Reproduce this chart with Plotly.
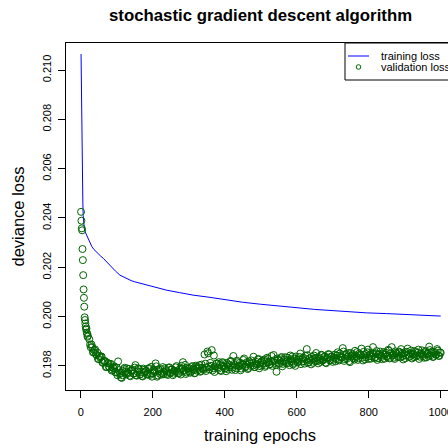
import plotly.graph_objects as go

# ---------------- data ----------------
train_epochs = [1, 2, 3, 4, 5, 6, 7, 8, 9, 10, 12, 15, 20, 25, 31, 37, 45, 55, 63, 73,
                85, 97, 109, 120, 130, 140, 150, 160, 170, 183, 210, 239, 275, 312, 359,
                400, 450, 500, 550, 609, 650, 701, 750, 794, 850, 887, 950, 1000]
train_loss = [0.21065, 0.20880, 0.20740, 0.20640, 0.20540, 0.20460, 0.20410, 0.20385,
              0.20368, 0.20358, 0.20345, 0.20335, 0.20322, 0.20302, 0.20284, 0.20272,
              0.20259, 0.20246, 0.20236, 0.20220, 0.20202, 0.20184, 0.20168, 0.20159,
              0.20152, 0.20146, 0.20141, 0.20137, 0.20133, 0.20128, 0.20117, 0.20107,
              0.20097, 0.20087, 0.20078, 0.20068, 0.20058, 0.20050, 0.20042, 0.20034,
              0.20029, 0.20024, 0.20019, 0.20015, 0.20012, 0.20010, 0.20006, 0.20002]

val_epochs_early = list(range(1, 21))
val_loss_early = [0.20425, 0.20389, 0.20358, 0.20350, 0.20274, 0.20229, 0.20168, 0.20110,
                  0.20076, 0.20040, 0.19997, 0.19986, 0.19972, 0.19960, 0.19948, 0.19952,
                  0.19935, 0.19930, 0.19918, 0.19922]

val_epochs_a = list(range(24, 1001, 4))
val_loss_a = [
    # 24 - 100
    0.19908, 0.19875, 0.19876, 0.19855, 0.19867, 0.19844, 0.19828, 0.19840, 0.19838, 0.19814,
    0.19819, 0.19819, 0.19796, 0.19811, 0.19794, 0.19808, 0.19784, 0.19790, 0.19774, 0.19793,
    # 104 - 300
    0.19818, 0.19766, 0.19753, 0.19762, 0.19787, 0.19775, 0.19790, 0.19770, 0.19760, 0.19780,
    0.19785, 0.19769, 0.19803, 0.19760, 0.19790, 0.19765, 0.19775, 0.19757, 0.19784, 0.19778,
    0.19767, 0.19788, 0.19763, 0.19796, 0.19770, 0.19782, 0.19810, 0.19756, 0.19786, 0.19768,
    0.19764, 0.19795, 0.19775, 0.19783, 0.19767, 0.19792, 0.19770, 0.19786, 0.19762, 0.19781,
    0.19794, 0.19776, 0.19769, 0.19788, 0.19800, 0.19815, 0.19783, 0.19767, 0.19792, 0.19778,
    # 304 - 500
    0.19772, 0.19795, 0.19786, 0.19770, 0.19801, 0.19780, 0.19794, 0.19776, 0.19805, 0.19788,
    0.19846, 0.19779, 0.19858, 0.19797, 0.19812, 0.19864, 0.19790, 0.19775, 0.19808, 0.19793,
    0.19815, 0.19782, 0.19800, 0.19811, 0.19789, 0.19778, 0.19806, 0.19795, 0.19820, 0.19784,
    0.19840, 0.19803, 0.19790, 0.19815, 0.19798, 0.19782, 0.19810, 0.19824, 0.19793, 0.19806,
    0.19787, 0.19818, 0.19800, 0.19812, 0.19837, 0.19795, 0.19808, 0.19826, 0.19790, 0.19813,
    # 504 - 700
    0.19803, 0.19821, 0.19796, 0.19815, 0.19828, 0.19806, 0.19819, 0.19800, 0.19844, 0.19812,
    0.19776, 0.19825, 0.19808, 0.19831, 0.19798, 0.19818, 0.19835, 0.19810, 0.19822, 0.19803,
    0.19827, 0.19838, 0.19812, 0.19800, 0.19824, 0.19816, 0.19836, 0.19807, 0.19828, 0.19819,
    0.19840, 0.19868, 0.19812, 0.19830, 0.19806, 0.19824, 0.19842, 0.19818, 0.19833, 0.19810,
    0.19828, 0.19845, 0.19821, 0.19835, 0.19813, 0.19830, 0.19848, 0.19822, 0.19837, 0.19816,
    # 704 - 1000
    0.19833, 0.19818, 0.19842, 0.19826, 0.19850, 0.19835, 0.19872, 0.19820, 0.19844, 0.19829,
    0.19852, 0.19815, 0.19838, 0.19847, 0.19825, 0.19840, 0.19856, 0.19831, 0.19845, 0.19870,
    0.19822, 0.19843, 0.19835, 0.19855, 0.19828, 0.19846, 0.19838, 0.19876, 0.19832, 0.19850,
    0.19824, 0.19845, 0.19858, 0.19836, 0.19848, 0.19829, 0.19853, 0.19840, 0.19862, 0.19833,
    0.19876, 0.19845, 0.19828, 0.19852, 0.19840, 0.19858, 0.19834, 0.19849, 0.19826, 0.19855,
    0.19842, 0.19870, 0.19836, 0.19851, 0.19830, 0.19846, 0.19860, 0.19838, 0.19853, 0.19828,
    0.19848, 0.19863, 0.19840, 0.19855, 0.19834, 0.19850, 0.19878, 0.19843, 0.19858, 0.19837,
    0.19852, 0.19845, 0.19862, 0.19840, 0.19853,
]

val_epochs_b = list(range(26, 999, 4))
val_loss_b = [
    # 26 - 98
    0.19886, 0.19887, 0.19855, 0.19863, 0.19848, 0.19854, 0.19828, 0.19833, 0.19838, 0.19812,
    0.19820, 0.19795, 0.19812, 0.19798, 0.19806, 0.19781, 0.19792, 0.19797, 0.19774,
    # 102 - 298
    0.19762, 0.19783, 0.19771, 0.19751, 0.19779, 0.19792, 0.19765, 0.19774, 0.19788, 0.19758,
    0.19781, 0.19769, 0.19793, 0.19762, 0.19777, 0.19786, 0.19766, 0.19759, 0.19789, 0.19773,
    0.19780, 0.19764, 0.19791, 0.19769, 0.19756, 0.19784, 0.19775, 0.19798, 0.19761, 0.19779,
    0.19787, 0.19770, 0.19766, 0.19790, 0.19778, 0.19763, 0.19794, 0.19772, 0.19785, 0.19768,
    0.19776, 0.19799, 0.19771, 0.19784, 0.19765, 0.19790, 0.19779, 0.19804, 0.19773, 0.19788,
    # 302 - 498
    0.19790, 0.19776, 0.19799, 0.19783, 0.19771, 0.19796, 0.19788, 0.19803, 0.19779, 0.19792,
    0.19784, 0.19809, 0.19794, 0.19851, 0.19786, 0.19800, 0.19781, 0.19842, 0.19797, 0.19810,
    0.19788, 0.19804, 0.19779, 0.19815, 0.19798, 0.19791, 0.19812, 0.19785, 0.19802, 0.19818,
    0.19794, 0.19808, 0.19783, 0.19821, 0.19800, 0.19812, 0.19789, 0.19805, 0.19830, 0.19797,
    0.19815, 0.19791, 0.19809, 0.19822, 0.19801, 0.19795, 0.19817, 0.19806, 0.19828, 0.19799,
    # 502 - 698
    0.19818, 0.19809, 0.19826, 0.19801, 0.19833, 0.19814, 0.19806, 0.19840, 0.19817, 0.19823,
    0.19804, 0.19830, 0.19811, 0.19820, 0.19836, 0.19808, 0.19826, 0.19815, 0.19833, 0.19812,
    0.19842, 0.19819, 0.19806, 0.19829, 0.19838, 0.19814, 0.19825, 0.19850, 0.19817, 0.19834,
    0.19809, 0.19827, 0.19843, 0.19815, 0.19822, 0.19837, 0.19812, 0.19831, 0.19852, 0.19820,
    0.19835, 0.19816, 0.19843, 0.19826, 0.19838, 0.19811, 0.19834, 0.19846, 0.19824, 0.19839,
    # 702 - 998
    0.19825, 0.19846, 0.19831, 0.19855, 0.19822, 0.19840, 0.19834, 0.19858, 0.19827, 0.19848,
    0.19837, 0.19819, 0.19852, 0.19842, 0.19830, 0.19861, 0.19836, 0.19824, 0.19850, 0.19843,
    0.19833, 0.19857, 0.19826, 0.19848, 0.19866, 0.19839, 0.19829, 0.19853, 0.19844, 0.19835,
    0.19860, 0.19831, 0.19849, 0.19841, 0.19827, 0.19856, 0.19846, 0.19838, 0.19865, 0.19830,
    0.19851, 0.19843, 0.19833, 0.19859, 0.19848, 0.19836, 0.19854, 0.19868, 0.19839, 0.19850,
    0.19831, 0.19857, 0.19845, 0.19838, 0.19862, 0.19849, 0.19835, 0.19856, 0.19843, 0.19866,
    0.19837, 0.19852, 0.19846, 0.19833, 0.19860, 0.19848, 0.19840, 0.19864, 0.19851, 0.19836,
    0.19857, 0.19845, 0.19868, 0.19841, 0.19855,
]

x_ticks = [0, 200, 400, 600, 800, 1000]
y_ticks = [0.198, 0.200, 0.202, 0.204, 0.206, 0.208, 0.210]
y_tick_labels = ["0.198", "0.200", "0.202", "0.204", "0.206", "0.208", "0.210"]

title_text = "stochastic gradient descent algorithm"
x_title = "training epochs"
y_title = "deviance loss"
legend_labels = ["training loss", "validation loss"]

# ---------------- figure ----------------
FONT = "Liberation Sans, Arial, Helvetica, sans-serif"
W, H = 448, 448
L, R, T, B = 66, 0, 43, 58
PW, PH = W - L - R, H - T - B


def px_x(p):
    return (p - L) / PW


def px_y(p):
    return (H - B - p) / PH


# merge the validation series in epoch order
val_pairs = sorted(zip(val_epochs_early + val_epochs_a + val_epochs_b,
                       val_loss_early + val_loss_a + val_loss_b))
val_epochs = [p[0] for p in val_pairs]
val_loss = [p[1] for p in val_pairs]

fig = go.Figure()
fig.add_trace(go.Scatter(x=train_epochs, y=train_loss, mode="lines",
                         line=dict(color="#0000FF", width=1), hoverinfo="skip"))
fig.add_trace(go.Scatter(x=val_epochs, y=val_loss, mode="markers",
                         marker=dict(symbol="circle-open", size=7, color="#006400",
                                     line=dict(width=1, color="#006400")),
                         hoverinfo="skip"))

fig.update_layout(
    width=W, height=H,
    margin=dict(l=L, r=R, t=T, b=B, pad=0),
    paper_bgcolor="white", plot_bgcolor="white",
    showlegend=False,
    font=dict(family=FONT, color="black"),
    xaxis=dict(range=[-40.8, 1020.3], tickvals=x_ticks, ticks="outside", ticklen=7,
               tickcolor="black", tickwidth=1, showline=True, linecolor="black",
               linewidth=1, mirror=True, showgrid=False, zeroline=False,
               tickfont=dict(size=11, family=FONT, color="black"), automargin=False,
               ticklabelstandoff=5, ticklabeloverflow="allow"),
    yaxis=dict(range=[0.19702, 0.21110], tickvals=y_ticks, ticktext=y_tick_labels,
               tickangle=-90, ticks="outside", ticklen=7, tickcolor="black",
               tickwidth=1, showline=True, linecolor="black", linewidth=1,
               mirror=False, showgrid=False, zeroline=False,
               tickfont=dict(size=11, family=FONT, color="black"), automargin=False,
               ticklabelstandoff=3, ticklabeloverflow="allow"),
)

annotations = [
    dict(text="<b>" + title_text + "</b>", x=px_x(260), y=px_y(16), xref="paper",
         yref="paper", xanchor="center", yanchor="middle", showarrow=False,
         font=dict(size=16.8, family=FONT, color="black")),
    dict(text=x_title, x=px_x(260), y=px_y(435), xref="paper", yref="paper",
         xanchor="center", yanchor="middle", showarrow=False,
         font=dict(size=16.5, family=FONT, color="black")),
    dict(text=y_title, x=px_x(17), y=px_y(216.5), xref="paper", yref="paper",
         xanchor="center", yanchor="middle", textangle=-90, showarrow=False,
         font=dict(size=16.5, family=FONT, color="black")),
    dict(text=legend_labels[0], x=px_x(379), y=px_y(56), xref="paper", yref="paper",
         xanchor="left", yanchor="middle", showarrow=False,
         font=dict(size=11, family=FONT, color="black")),
    dict(text=legend_labels[1], x=px_x(379), y=px_y(67), xref="paper", yref="paper",
         xanchor="left", yanchor="middle", showarrow=False,
         font=dict(size=11, family=FONT, color="black")),
]
fig.update_layout(annotations=annotations)

shapes = [
    dict(type="rect", xref="paper", yref="paper", x0=px_x(345), x1=px_x(470),
         y0=px_y(80), y1=px_y(43), line=dict(color="black", width=1),
         fillcolor="rgba(0,0,0,0)"),
    dict(type="line", xref="paper", yref="paper", x0=px_x(348), x1=px_x(369),
         y0=px_y(56), y1=px_y(56), line=dict(color="#0000FF", width=1)),
    dict(type="circle", xref="paper", yref="paper", x0=px_x(356.2), x1=px_x(360.8),
         y0=px_y(64.7), y1=px_y(69.3), line=dict(color="#006400", width=1)),
]
fig.update_layout(shapes=shapes)

fig.write_html("out.html")
